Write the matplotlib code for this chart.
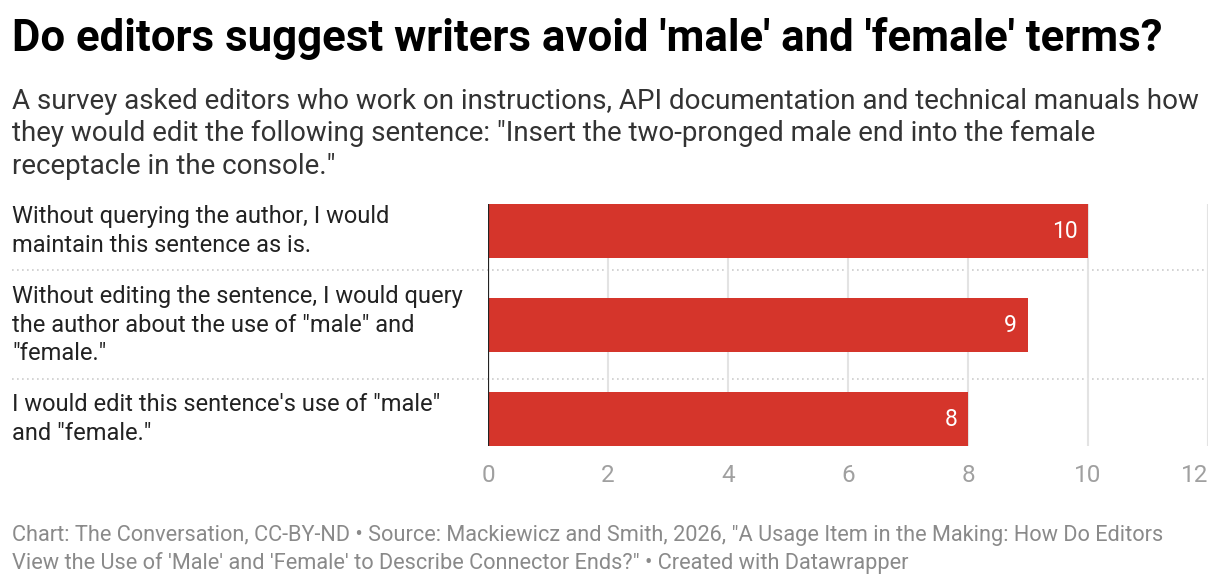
import matplotlib
matplotlib.use("Agg")
import matplotlib.pyplot as plt
from matplotlib.transforms import blended_transform_factory

plt.rcParams['font.family'] = ['Roboto', 'DejaVu Sans']

answers = [
    "Without querying the author, I would\nmaintain this sentence as is.",
    "Without editing the sentence, I would query\nthe author about the use of \"male\" and\n\"female.\"",
    "I would edit this sentence's use of \"male\"\nand \"female.\"",
]
counts = [10, 9, 8]
x_ticks = [0, 2, 4, 6, 8, 10, 12]

title = "Do editors suggest writers avoid 'male' and 'female' terms?"
subtitle = ("A survey asked editors who work on instructions, API documentation and technical manuals how\n"
            "they would edit the following sentence: \"Insert the two-pronged male end into the female\n"
            "receptacle in the console.\"")
footer = ("Chart: The Conversation, CC-BY-ND \u2022 Source: Mackiewicz and Smith, 2026, \"A Usage Item in the Making: How Do Editors\n"
          "View the Use of 'Male' and 'Female' to Describe Connector Ends?\" \u2022 Created with Datawrapper")

W, H = 1220, 584
fig = plt.figure(figsize=(W / 100, H / 100), dpi=100)
ax = fig.add_axes([488 / W, 138 / H, 720 / W, 242 / H])

bar_h = 54 / 94
ypos = list(range(len(counts)))
ax.barh(ypos, counts, height=bar_h, color='#d5352b', zorder=2)
ax.set_ylim(len(counts) - 1 + bar_h / 2, -bar_h / 2)
ax.set_xlim(0, 12)

for y, v in zip(ypos, counts):
    ax.text(v - 0.18, y, str(v), ha='right', va='center', color='white', fontsize=16.5, zorder=3)

for x in x_ticks[1:]:
    ax.axvline(x, color='#e3e3e3', lw=1.5, zorder=1)
ax.axvline(0, color='#222222', lw=1.6, zorder=3)

for s in ax.spines.values():
    s.set_visible(False)
ax.set_yticks([])
ax.set_xticks(x_ticks)
ax.tick_params(axis='x', length=0, pad=13, labelsize=17.5, labelcolor='#a0a0a0')
ax.get_xticklabels()[-1].set_horizontalalignment('right')

# row labels and dotted separators
tr = blended_transform_factory(fig.transFigure, ax.transData)
for y, lab in zip(ypos, answers):
    ax.text(12 / W, y, lab, transform=tr, ha='left', va='center',
            fontsize=17, color='#222222', linespacing=1.3)
for ysep in [0.415, 1.574]:
    ax.plot([12 / W, 1208 / W], [ysep, ysep], transform=tr, color='#cccccc',
            lw=1.2, ls=(0, (1, 2)), clip_on=False, zorder=0)

fig.text(12 / W, 1 - 51 / H, title, fontsize=31.5, fontweight='bold', color='#000000',
         ha='left', va='baseline')
# multi-line texts: baseline anchor is the last line
fig.text(12 / W, 1 - 174 / H, subtitle, fontsize=20, color='#333333', ha='left', va='baseline',
         linespacing=1.27)
fig.text(12 / W, 1 - 569 / H, footer, fontsize=15.7, color='#8a8a8a', ha='left', va='baseline',
         linespacing=1.33)

fig.savefig("out.png", dpi=100)
